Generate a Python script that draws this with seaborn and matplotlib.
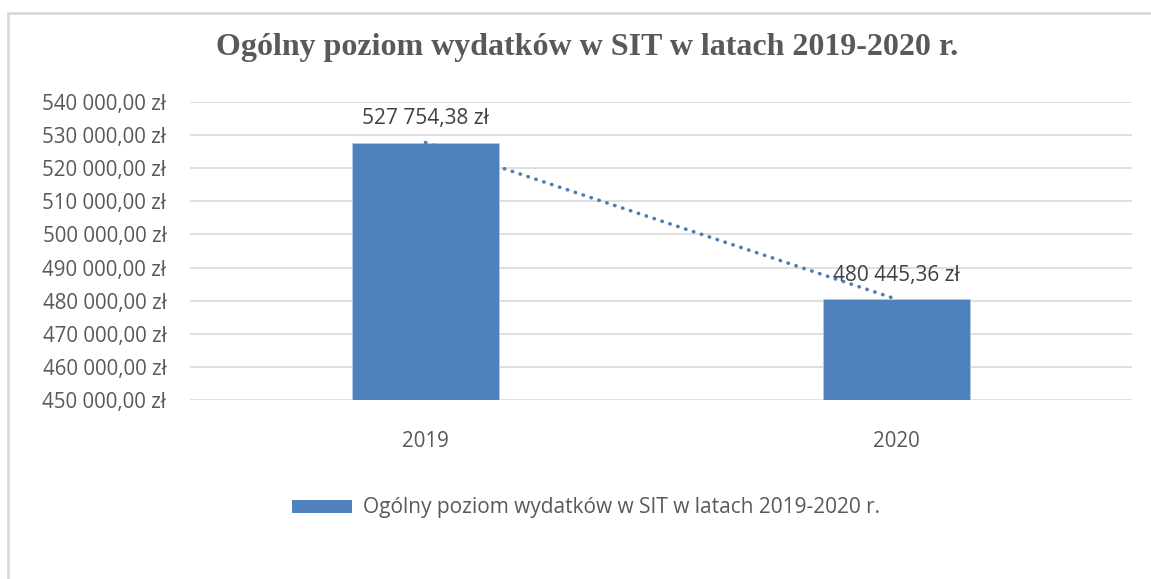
import numpy as np
import pandas as pd
import seaborn as sns
import matplotlib.pyplot as plt
from matplotlib.patches import Rectangle, Patch

# data
years = ["2019", "2020"]
spending = [527754.38, 480445.36]
y_ticks = [450000, 460000, 470000, 480000, 490000, 500000, 510000, 520000, 530000, 540000]
title = "Ogólny poziom wydatków w SIT w latach 2019-2020 r."


def zl(v):
    # polish currency format: 527 754,38 zł
    s = f"{v:,.2f}"
    return s.replace(",", " ").replace(".", ",") + " zł"


sns.set_theme(style="white")
plt.rcParams['font.family'] = ["Open Sans", "DejaVu Sans"]

df = pd.DataFrame({"rok": years, "wydatki": spending})

fig = plt.figure(figsize=(11.51, 5.79), dpi=100)
ax = fig.add_axes([190 / 1151, 1 - 400 / 579, 942 / 1151, 298 / 579])

# chart frame like in the document
fig.patches.append(Rectangle((8 / 1151, -0.05), 1.1, 1 - 13 / 579 + 0.05,
                             transform=fig.transFigure, fill=False,
                             edgecolor="#d9d9d9", linewidth=2))

sns.barplot(data=df, x="rok", y="wydatki", color="#4f81bd", width=0.314,
            saturation=1, edgecolor="#b4c7e7", linewidth=0.6, ax=ax, zorder=3)

# linear trend line
xs = np.arange(len(years))
k, b = np.polyfit(xs, spending, 1)
ax.plot(xs, k * xs + b, color="#4a7ebb", linewidth=2.6,
        linestyle=(0, (0.1, 2.2)), dash_capstyle="round", zorder=4)

# data labels
for i, v in enumerate(spending):
    ax.text(i, v + 4000, zl(v), ha="center", va="bottom",
            fontsize=15, color="#404040", zorder=5)

ax.set_ylim(450000, 540000)
ax.set_xlim(-0.5, 1.5)
ax.set_yticks(y_ticks)
ax.set_yticklabels([zl(t) for t in y_ticks])
ax.yaxis.grid(True, color="#d9d9d9", linewidth=1.2)
ax.set_axisbelow(True)
ax.tick_params(axis="y", length=0, pad=17, labelsize=14.8, labelcolor="#595959")
ax.tick_params(axis="x", length=0, pad=22, labelsize=14.8, labelcolor="#595959")
ax.set_xlabel("")
ax.set_ylabel("")
sns.despine(ax=ax, left=True, bottom=True, top=True, right=True)

fig.text(587 / 1151, 1 - 48 / 579, title, ha="center", va="center",
         fontsize=23, fontweight="bold", color="#595959",
         family=["Liberation Serif", "DejaVu Serif"])

handle = Patch(facecolor="#4f81bd", edgecolor="none")
fig.legend([handle], [title], loc="center", bbox_to_anchor=(586 / 1151, 1 - 508 / 579),
           frameon=False, fontsize=15, labelcolor="#595959",
           handlelength=2.9, handleheight=0.6, handletextpad=0.55)

fig.savefig("out.png", dpi=100)
